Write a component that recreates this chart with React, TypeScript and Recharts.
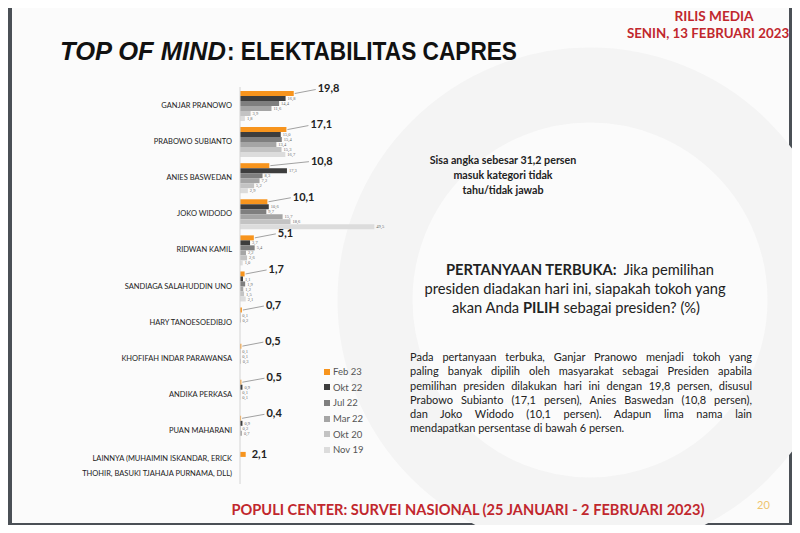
import React from 'react'
import { BarChart, Bar, XAxis, YAxis, LabelList, Legend } from 'recharts'

// categories (top to bottom)
const candidates = [
  'GANJAR PRANOWO',
  'PRABOWO SUBIANTO',
  'ANIES BASWEDAN',
  'JOKO WIDODO',
  'RIDWAN KAMIL',
  'SANDIAGA SALAHUDDIN UNO',
  'HARY TANOESOEDIBJO',
  'KHOFIFAH INDAR PARAWANSA',
  'ANDIKA PERKASA',
  'PUAN MAHARANI',
  'LAINNYA (MUHAIMIN ISKANDAR, ERICK\nTHOHIR, BASUKI TJAHAJA PURNAMA, DLL)'
]

// survey waves (%)
const feb23 = [19.8, 17.1, 10.8, 10.1, 5.1, 1.7, 0.7, 0.5, 0.5, 0.4, 2.1]
const okt22 = [16.8, 15.0, 17.3, 10.6, 3.7, 1.1, 0.1, 0.1, 0.9, 0.9, null]
const jul22 = [14.4, 15.4, 8.3, 9.7, 5.4, 1.9, 0.2, 0.1, 0.1, 0.2, null]
const mar22 = [11.6, 13.4, 7.2, 15.7, 2.2, 1.2, null, 0.3, 0.1, 0.7, null]
const okt20 = [3.9, 15.3, 5.2, 18.6, 2.6, 1.5, null, null, null, null, null]
const nov19 = [1.8, 16.7, 2.9, 49.5, 1.0, 2.1, null, null, null, null, null]

const SERIES = [
  { key: 'feb23', name: 'Feb 23', color: '#f7941d' },
  { key: 'okt22', name: 'Okt 22', color: '#3d3d3d' },
  { key: 'jul22', name: 'Jul 22', color: '#7f7f7f' },
  { key: 'mar22', name: 'Mar 22', color: '#a5a5a5' },
  { key: 'okt20', name: 'Okt 20', color: '#c3c3c3' },
  { key: 'nov19', name: 'Nov 19', color: '#dcdcdc' }
]

const rows = candidates.map((name, i) => ({
  name,
  feb23: feb23[i],
  okt22: okt22[i],
  jul22: jul22[i],
  mar22: mar22[i],
  okt20: okt20[i],
  nov19: nov19[i]
}))

const RED = '#c1272d'
const FONT = 'Lato, "Open Sans", sans-serif'

const comma = (v: any) => (v === null || v === undefined ? '' : String(v.toFixed(1)).replace('.', ','))

// category label, may wrap on \n
const CandidateTick = ({ x, y, payload }: any) => {
  const lines = String(payload.value).split('\n')
  const start = -((lines.length - 1) * 15) / 2
  return (
    <text x={x} y={y} textAnchor="end" fontSize={7.5} fill="#222" fontFamily={FONT}>
      {lines.map((l, i) => (
        <tspan key={i} x={x} dy={i === 0 ? start + 3 : 15}>{l}</tspan>
      ))}
    </text>
  )
}

// bold Feb 23 value with leader line, pushed past the Okt 22 bar if that one is longer
const FebLabel = (props: any) => {
  const { x, y, width, height, value, index } = props
  const ex = x + width
  const cy = y + height / 2
  const next = okt22[index] ?? 0
  const reach = Math.max(ex, x + (width / value) * next)
  if (index === candidates.length - 1) {
    return (
      <text x={ex + 6} y={cy + 1} dominantBaseline="middle" fontSize={11} fontWeight={700} fill="#222" fontFamily={FONT}>
        {comma(value)}
      </text>
    )
  }
  return (
    <g>
      <line x1={ex + 1} y1={cy} x2={reach + 22} y2={cy - 4} stroke="#8a8a8a" strokeWidth={0.8} />
      <text x={reach + 24} y={cy - 4} dominantBaseline="middle" fontSize={11} fontWeight={700} fill="#222" fontFamily={FONT}>
        {comma(value)}
      </text>
    </g>
  )
}

const LegendBox = () => (
  <div style={{ fontFamily: FONT, fontSize: 9.5, color: '#555' }}>
    {SERIES.map(s => (
      <div key={s.key} style={{ height: 15.6, display: 'flex', alignItems: 'center' }}>
        <span style={{ width: 6, height: 6, background: s.color, marginRight: 3, display: 'inline-block' }} />
        {s.name}
      </div>
    ))}
  </div>
)

const paragraph = [
  'Pada pertanyaan terbuka, Ganjar Pranowo menjadi tokoh yang',
  'paling banyak dipilih oleh masyarakat sebagai Presiden apabila',
  'pemilihan presiden dilakukan hari ini dengan 19,8 persen, disusul',
  'Prabowo Subianto (17,1 persen), Anies Baswedan (10,8 persen),',
  'dan Joko Widodo (10,1 persen). Adapun lima nama lain',
  'mendapatkan persentase di bawah 6 persen.'
]

export default function App() {
  return (
    <div style={{ position: 'relative', width: 800, height: 533, margin: -8, overflow: 'hidden', background: '#4b5056' }}>
      <svg width={800} height={533} style={{ position: 'absolute', left: 0, top: 0 }}>
        <rect x={12} y={0} width={777} height={523} fill="#fbfbfb" />
        <rect x={0} y={529} width={800} height={4} fill="#e4e4e4" />
        <circle cx={590} cy={300} r={215} fill="none" stroke="#f4f4f4" strokeWidth={75} />
        <text x={60} y={60} fontFamily='"Liberation Sans", Arial, sans-serif' fontWeight={700} fontStyle="italic" fontSize={25} fill="#111" textLength={166} lengthAdjust="spacingAndGlyphs">TOP OF MIND</text>
        <text x={227} y={60} fontFamily='"Liberation Sans", Arial, sans-serif' fontWeight={700} fontSize={25} fill="#111" textLength={290} lengthAdjust="spacingAndGlyphs">: ELEKTABILITAS CAPRES</text>
        <text x={714} y={21} textAnchor="middle" fontFamily={FONT} fontWeight={700} fontSize={13.6} fill={RED}>RILIS MEDIA</text>
        <text x={708} y={38} textAnchor="middle" fontFamily={FONT} fontWeight={700} fontSize={13.3} fill={RED}>SENIN, 13 FEBRUARI 2023</text>
        <text x={503} y={164} textAnchor="middle" fontFamily={FONT} fontWeight={700} fontSize={10.7} fill="#222">Sisa angka sebesar 31,2 persen</text>
        <text x={503} y={179} textAnchor="middle" fontFamily={FONT} fontWeight={700} fontSize={10.7} fill="#222">masuk kategori tidak</text>
        <text x={503} y={194} textAnchor="middle" fontFamily={FONT} fontWeight={700} fontSize={10.7} fill="#222">tahu/tidak jawab</text>
        <text x={580} y={275} textAnchor="middle" fontFamily={FONT} fontSize={14.7} fill="#222">
          <tspan fontWeight={700}>PERTANYAAN TERBUKA:</tspan>
          <tspan>{'\u00a0 Jika pemilihan'}</tspan>
        </text>
        <text x={575} y={294} textAnchor="middle" fontFamily={FONT} fontSize={14.7} fill="#222">presiden diadakan hari ini, siapakah tokoh yang</text>
        <text x={576} y={313} textAnchor="middle" fontFamily={FONT} fontSize={14.7} fill="#222">
          <tspan>akan Anda </tspan>
          <tspan fontWeight={700}>PILIH</tspan>
          <tspan> sebagai presiden? (%)</tspan>
        </text>
        <text x={468} y={515} textAnchor="middle" fontFamily={FONT} fontWeight={700} fontSize={14.6} fill={RED}>POPULI CENTER: SURVEI NASIONAL (25 JANUARI - 2 FEBRUARI 2023)</text>
        <text x={757} y={509} fontFamily={FONT} fontSize={11} fill="#efc46e">20</text>
      </svg>

      <div style={{ position: 'absolute', left: 410, top: 350, width: 342, fontFamily: FONT, fontSize: 11, lineHeight: '14.3px', color: '#222' }}>
        {paragraph.map((l, i) => (
          <div key={i} style={{ textAlign: i === paragraph.length - 1 ? 'left' : 'justify', textAlignLast: i === paragraph.length - 1 ? 'left' : 'justify' }}>{l}</div>
        ))}
      </div>

      <div style={{ position: 'absolute', left: 0, top: 0 }}>
        <BarChart
          layout="vertical"
          width={420}
          height={500}
          data={rows}
          margin={{ top: 87, right: 28, bottom: 16, left: 0 }}
          barCategoryGap={4}
          barGap={0}
        >
          <XAxis type="number" domain={[0, 56]} hide />
          <YAxis
            type="category"
            dataKey="name"
            width={240}
            interval={0}
            tickLine={false}
            axisLine={{ stroke: '#d4d4d4' }}
            tick={<CandidateTick />}
          />
          <Legend
            layout="horizontal"
            verticalAlign="middle"
            align="center"
            content={<LegendBox />}
            wrapperStyle={{ left: 324, top: 364, width: 70 }}
          />
          {SERIES.map((s, i) => (
            <Bar key={s.key} dataKey={s.key} name={s.name} fill={s.color} isAnimationActive={false}
              label={i === 0 ? <FebLabel /> : undefined}>
              {i > 0 && (
                <LabelList dataKey={s.key} position="right" offset={2} fontSize={4.5} fill="#666" formatter={comma} />
              )}
            </Bar>
          ))}
        </BarChart>
      </div>
    </div>
  )
}
